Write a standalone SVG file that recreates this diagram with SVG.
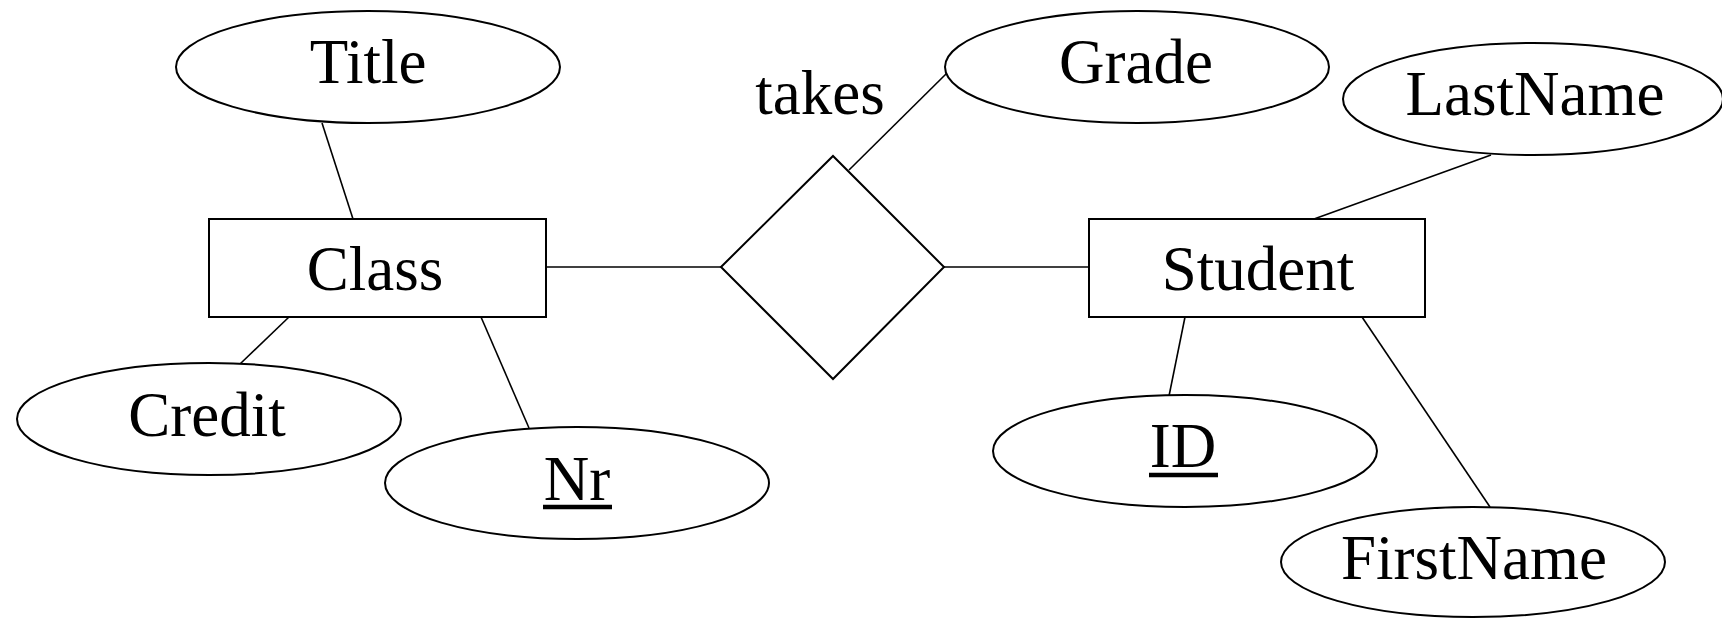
<svg xmlns="http://www.w3.org/2000/svg" width="1722" height="618" viewBox="0 0 1722 618">
  <style>
    .shape { fill: #ffffff; stroke: #000000; stroke-width: 2; }
    .link { stroke: #000000; stroke-width: 1.6; fill: none; }
    .lbl { font-family: "Liberation Serif", "Times New Roman", serif; font-size: 63px; fill: #000000; text-anchor: middle; }
    .key { stroke: #000000; stroke-width: 4.5; }
  </style>
  <rect width="1722" height="618" fill="#ffffff"/>

  <!-- connectors -->
  <g id="connectors">
    <line class="link" x1="322" y1="123" x2="353" y2="219"/>
    <line class="link" x1="289" y1="317" x2="240" y2="364"/>
    <line class="link" x1="481" y1="317" x2="529" y2="428"/>
    <line class="link" x1="546" y1="267" x2="721" y2="267"/>
    <line class="link" x1="944" y1="267" x2="1089" y2="267"/>
    <line class="link" x1="947" y1="73" x2="849" y2="170"/>
    <line class="link" x1="1491" y1="155" x2="1314" y2="219"/>
    <line class="link" x1="1185" y1="317" x2="1169" y2="396"/>
    <line class="link" x1="1362" y1="317" x2="1490" y2="507"/>
  </g>

  <!-- entity: Class -->
  <g id="class">
    <rect class="shape" x="209" y="219" width="337" height="98"/>
    <text class="lbl" x="375" y="290">Class</text>
  </g>

  <!-- entity: Student -->
  <g id="student">
    <rect class="shape" x="1089" y="219" width="336" height="98"/>
    <text class="lbl" x="1258" y="290">Student</text>
  </g>

  <!-- relationship: takes -->
  <g id="takes">
    <polygon class="shape" points="721,267 833,156 944,267 833,379"/>
    <text class="lbl" x="820" y="114">takes</text>
  </g>

  <!-- attributes of Class -->
  <g id="title">
    <ellipse class="shape" cx="368" cy="67" rx="192" ry="56"/>
    <text class="lbl" x="368" y="83">Title</text>
  </g>
  <g id="credit">
    <ellipse class="shape" cx="209" cy="419" rx="192" ry="56"/>
    <text class="lbl" x="207" y="436">Credit</text>
  </g>
  <g id="nr">
    <ellipse class="shape" cx="577" cy="483" rx="192" ry="56"/>
    <text class="lbl" x="577" y="500">Nr</text>
    <line class="key" x1="543" y1="507" x2="612" y2="507"/>
  </g>

  <!-- attribute of takes -->
  <g id="grade">
    <ellipse class="shape" cx="1137" cy="67" rx="192" ry="56"/>
    <text class="lbl" x="1136" y="83">Grade</text>
  </g>

  <!-- attributes of Student -->
  <g id="lastname">
    <ellipse class="shape" cx="1533" cy="99" rx="190" ry="56"/>
    <text class="lbl" x="1535" y="115">LastName</text>
  </g>
  <g id="id">
    <ellipse class="shape" cx="1185" cy="451" rx="192" ry="56"/>
    <text class="lbl" x="1183" y="467">ID</text>
    <line class="key" x1="1149" y1="475" x2="1218" y2="475"/>
  </g>
  <g id="firstname">
    <ellipse class="shape" cx="1473" cy="562" rx="192" ry="55"/>
    <text class="lbl" x="1474" y="579">FirstName</text>
  </g>
</svg>
